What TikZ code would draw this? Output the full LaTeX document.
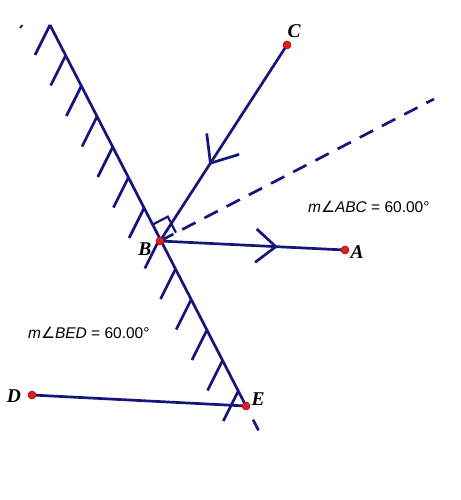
\documentclass[tikz,border=0pt]{standalone}
\usepackage{fontspec}
\setmainfont{Liberation Serif}
\setsansfont{Liberation Sans}
\newfontfamily\symfont{DejaVu Sans}
\usetikzlibrary{calc}
\definecolor{navy}{RGB}{22,22,122}
\definecolor{ptred}{RGB}{225,30,30}
\definecolor{ptedge}{RGB}{150,20,20}
\newcommand{\angsym}{{\symfont\itshape ∠}}
\begin{document}
\begin{tikzpicture}[x=1pt,y=-1pt,
  ln/.style={draw=navy,line width=2.7pt},
  dotpt/.style={circle,fill=ptred,draw=ptedge,line width=0.6pt,inner sep=0pt,minimum size=8pt},
  lbl/.style={font=\fontsize{19.5}{22}\selectfont\bfseries\itshape,inner sep=0pt},
  meas/.style={font=\sffamily\fontsize{15.5}{18}\selectfont,inner sep=0pt}]
\useasboundingbox (0,0) rectangle (460,500);
\coordinate (T) at (50,25);
\coordinate (B) at (160,241);
\coordinate (E) at (246,406);
\coordinate (A) at (345,250);
\coordinate (C) at (287,45);
\coordinate (D) at (32,395);
\coordinate (N) at (434,99);
% mirror
\draw[ln] (T) -- (E);
\draw[ln] ($(T)!1.036!(E)$) -- ($(T)!1.064!(E)$);
\foreach \k [evaluate=\k as \f using \k*0.08005] in {0,...,12}{
  \draw[ln] ($(T)!\f!(E)$) -- ++(-15,30);
}
\draw[ln,line width=1.8pt] (20,28) -- (22.5,25);
% normal
\draw[ln,dash pattern=on 15pt off 10pt] (B) -- (N);
\coordinate (R1) at ($(B)!18pt!(T)$);
\coordinate (R2) at ($(B)!18pt!(N)$);
\draw[draw=navy,line width=2.2pt] (R1) -- ($(R1)+(R2)-(B)$) -- (R2);
% rays
\draw[ln] (C) -- (B);
\draw[ln] (B) -- (A);
\draw[ln] (D) -- (E);
\coordinate (P1) at ($(C)!0.603!(B)$);
\draw[ln] ($(P1)!30pt!40:(C)$) -- (P1) -- ($(P1)!30pt!-40:(C)$);
\coordinate (P2) at ($(B)!0.626!(A)$);
\draw[ln] ($(P2)!26pt!40:(B)$) -- (P2) -- ($(P2)!26pt!-40:(B)$);
% points
\node[dotpt] (dA) at (A) {};
\node[dotpt] (dB) at (B) {};
\node[dotpt] (dC) at (C) {};
\node[dotpt] (dD) at (D) {};
\node[dotpt] (dE) at (E) {};
% labels
\node[lbl] (lA) at (357,252) {A};
\node[lbl] (lB) at (145,249) {B};
\node[lbl] (lC) at (294,31) {C};
\node[lbl] (lD) at (14,396) {D};
\node[lbl] (lE) at (258,399) {E};
\node[meas,anchor=base west] (mABC) at (308,212) {\itshape m\angsym ABC\upshape\ = 60.00°};
\node[meas,anchor=base west] (mBED) at (28,338) {\itshape m\angsym BED\upshape\ = 60.00°};
\end{tikzpicture}
\end{document}
